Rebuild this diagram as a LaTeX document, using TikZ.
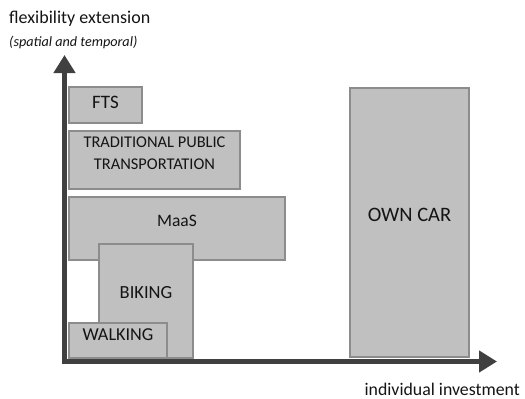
\documentclass[tikz,border=0pt]{standalone}
\usepackage{fontspec}
\setmainfont{Carlito}
\usepackage{xcolor}
\usepackage{tikz}
\usetikzlibrary{arrows.meta}

\definecolor{boxfill}{HTML}{C0C0C0}
\definecolor{boxline}{HTML}{8C8C8C}
\definecolor{axisgray}{HTML}{404040}
\definecolor{textgray}{HTML}{141414}

\tikzset{
  mode/.style={draw=boxline, fill=boxfill, line width=1.5pt, inner sep=0pt},
  modetext/.style={text=textgray, align=center, inner sep=0pt},
  axis/.style={draw=axisgray, line width=5.5pt, line join=miter,
    {Triangle[length=18pt,width=21pt]}-{Triangle[length=18pt,width=21pt]}},
  axislabel/.style={text=textgray, inner sep=0pt}
}

\begin{document}
\begin{tikzpicture}[x=1pt, y=-1pt]
\useasboundingbox (0,0) rectangle (525,399);
%
\draw[axis] (64.5,55) -- (64.5,361.5) -- (497,361.5);
\node[axislabel, anchor=west, font=\fontsize{18}{21}\selectfont] (ylab) at (9,19) {flexibility extension};
\node[axislabel, anchor=west, font=\fontsize{14.2}{17}\selectfont\itshape] (ysub) at (9,42) {(spatial and temporal)};
\node[axislabel, anchor=east, font=\fontsize{17.8}{21}\selectfont] (xlab) at (520,389) {individual investment};
%
\node[mode, minimum width=73pt, minimum height=36pt] (fts) at (105.5,105) {};
\node[mode, minimum width=171pt, minimum height=58pt] (tpt) at (154.5,160) {};
\node[mode, minimum width=216pt, minimum height=63pt] (maas) at (177,228.5) {};
\node[mode, minimum width=94pt, minimum height=114pt] (biking) at (146,301) {};
\node[mode, minimum width=98pt, minimum height=35pt] (walking) at (118,340.5) {};
\node[mode, minimum width=119pt, minimum height=269pt] (owncar) at (409.5,222.5) {};
%
\node[modetext, font=\fontsize{19}{22}\selectfont] (fts-t) at (105.5,102.5) {FTS};
\node[modetext, font=\fontsize{16.4}{22}\selectfont] (tpt-t) at (154.5,153.5) {TRADITIONAL PUBLIC\\TRANSPORTATION};
\node[modetext, font=\fontsize{17.5}{20}\selectfont] (maas-t) at (177,221) {MaaS};
\node[modetext, font=\fontsize{18.5}{22}\selectfont] (biking-t) at (146,293) {BIKING};
\node[modetext, font=\fontsize{18.2}{22}\selectfont] (walking-t) at (118,335) {WALKING};
\node[modetext, font=\fontsize{20.5}{24}\selectfont] (owncar-t) at (409.5,215) {OWN CAR};
\end{tikzpicture}
\end{document}
